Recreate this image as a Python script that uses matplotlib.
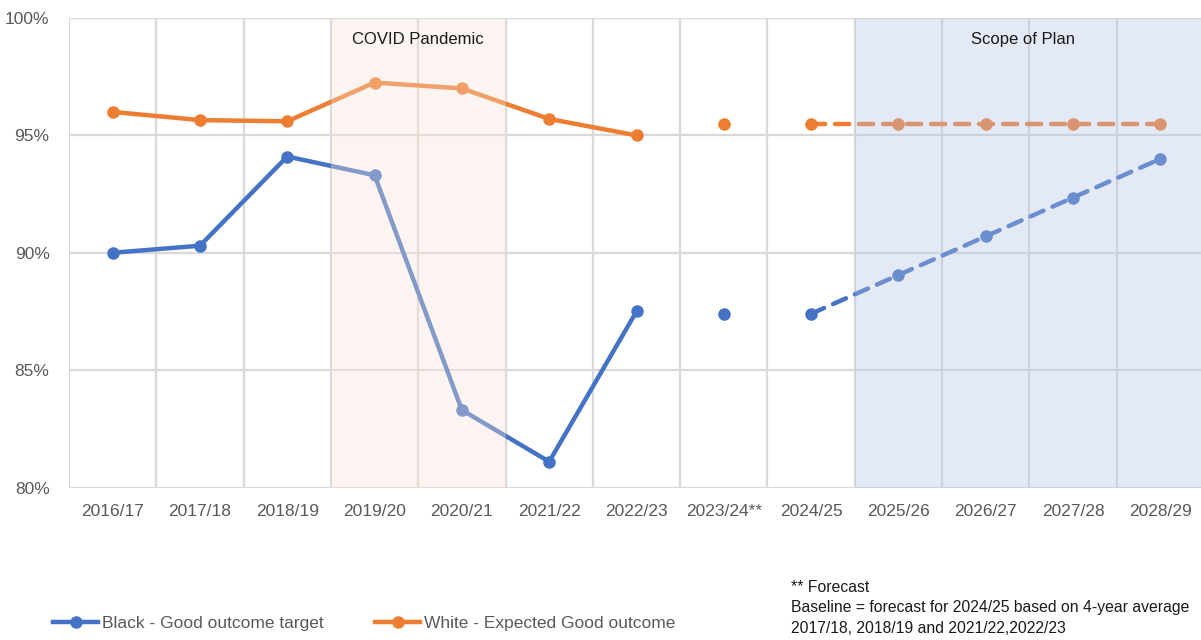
import matplotlib.pyplot as plt
import numpy as np

plt.rcParams['font.family'] = ['Liberation Sans', 'DejaVu Sans']

years = ['2016/17', '2017/18', '2018/19', '2019/20', '2020/21', '2021/22', '2022/23',
         '2023/24**', '2024/25', '2025/26', '2026/27', '2027/28', '2028/29']

# actual values 2016/17 - 2022/23
black_actual = [90.0, 90.3, 94.1, 93.3, 83.3, 81.1, 87.5]
white_actual = [96.0, 95.65, 95.6, 97.25, 97.0, 95.7, 95.0]
# forecast 2023/24
black_forecast = 87.4
white_forecast = 95.5
# plan 2024/25 - 2028/29
black_plan = [87.4, 89.05, 90.7, 92.35, 94.0]
white_plan = [95.5, 95.5, 95.5, 95.5, 95.5]

blue = '#4472C4'
orange = '#ED7D31'
grid_col = '#D9D9D9'
label_col = '#595959'


def plot_outcomes():
    fig = plt.figure(figsize=(12.01, 6.40), dpi=100)
    ax = fig.add_axes([69 / 1201, 152.5 / 640, 1135 / 1201, 469.5 / 640])

    x = np.arange(len(years))

    # grid
    for v in np.arange(80, 101, 5):
        ax.axhline(v, color=grid_col, lw=1.6, zorder=1)
    for b in np.arange(-0.5, 13, 1):
        ax.axvline(b, color=grid_col, lw=1.6, zorder=1)

    lw = 3.2
    ms = 8
    dash = (0, (3.2, 2.2))
    # black series
    ax.plot(x[:7], black_actual, color=blue, lw=lw, marker='o', ms=ms, zorder=3,
            solid_capstyle='round')
    ax.plot(x[7], black_forecast, color=blue, marker='o', ms=ms, zorder=3, ls='none')
    ax.plot(x[8:], black_plan, color=blue, lw=lw, ls=dash, marker='o', ms=ms,
            zorder=3, dash_capstyle='round')
    # white series
    ax.plot(x[:7], white_actual, color=orange, lw=lw, marker='o', ms=ms, zorder=3,
            solid_capstyle='round')
    ax.plot(x[7], white_forecast, color=orange, marker='o', ms=ms, zorder=3, ls='none')
    ax.plot(x[8:], white_plan, color=orange, lw=lw, ls=dash, marker='o', ms=ms,
            zorder=3, dash_capstyle='round')

    # shaded overlays sit on top of the lines
    ax.axvspan(2.5, 4.5, color='#F9E2D4', alpha=0.35, lw=0, zorder=4)
    ax.axvspan(8.5, 12.5, color='#B2C3E5', alpha=0.35, lw=0, zorder=4)

    ax.text(3.5, 99.1, 'COVID Pandemic', ha='center', va='center', fontsize=12,
            color='#1a1a1a', zorder=6)
    ax.text(10.43, 99.1, 'Scope of Plan', ha='center', va='center', fontsize=12,
            color='#1a1a1a', zorder=6)

    ax.set_xlim(-0.5, 12.5)
    ax.set_ylim(80, 100)
    ax.set_xticks(x)
    ax.set_xticklabels(years, fontsize=12.5, color=label_col)
    ax.set_yticks(np.arange(80, 101, 5))
    ax.set_yticklabels([f'{v}%' for v in range(80, 101, 5)], fontsize=12.5, color=label_col)
    ax.tick_params(length=0)
    ax.tick_params(axis='y', pad=14)
    ax.tick_params(axis='x', pad=12)
    for s in ax.spines.values():
        s.set_visible(False)

    # legend
    h1, = ax.plot([], [], color=blue, lw=lw, marker='o', ms=ms)
    h2, = ax.plot([], [], color=orange, lw=lw, marker='o', ms=ms)
    fig.legend([h1, h2], ['Black - Good outcome target', 'White - Expected Good outcome'],
               loc='center left', bbox_to_anchor=(53 / 1201, 1 - 623 / 640), ncol=2,
               frameon=False, fontsize=12.5, handlelength=2.6, handletextpad=0.2,
               columnspacing=3.0, labelcolor=label_col, borderpad=0, borderaxespad=0)

    fig.text(791 / 1201, 1 - 580 / 640,
             '** Forecast\nBaseline = forecast for 2024/25 based on 4-year average\n'
             '2017/18, 2018/19 and 2021/22,2022/23',
             ha='left', va='top', fontsize=11.3, color='#1a1a1a', linespacing=1.45)

    fig.savefig('out.png', dpi=100)
    plt.close(fig)


if __name__ == '__main__':
    plot_outcomes()
